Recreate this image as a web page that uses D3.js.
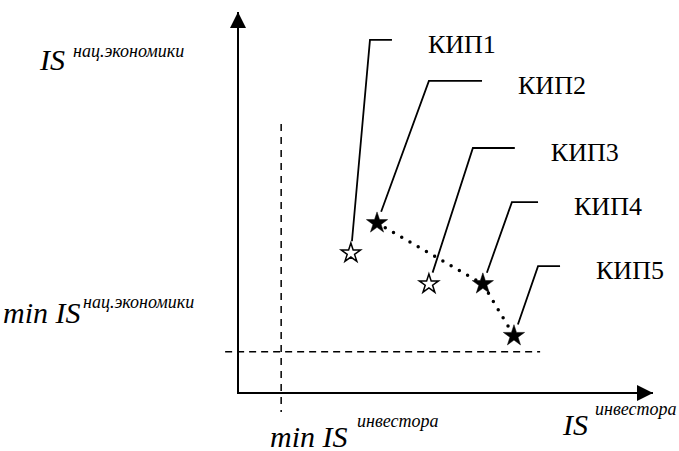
<!DOCTYPE html>
<html><head><meta charset="utf-8"><script src="https://cdn.jsdelivr.net/npm/d3@7"></script></head>
<body style="margin:0">
<script>
// points of the chart (conceptual units)
const names = ['КИП1', 'КИП2', 'КИП3', 'КИП4', 'КИП5'];
const xVals = [2.72, 3.35, 4.60, 5.90, 6.65];
const yVals = [3.67, 4.46, 2.86, 2.86, 1.50];
const filled = [false, true, false, true, true];
// leader elbows
const elbowX = [3.18, 4.60, 5.66, 6.60, 7.23];
const elbowY = [9.27, 8.19, 6.43, 5.01, 3.33];
const elbowEnd = [3.71, 5.88, 6.67, 7.23, 7.76];
// minimum thresholds
const minX = 1.04;
const minY = 1.08;

const width = 679, height = 451;
const svg = d3.select('body').append('svg').attr('width', width).attr('height', height);

const x = d3.scaleLinear().domain([0, 10]).range([238, 653]);
const y = d3.scaleLinear().domain([0, 10]).range([393, 12]);

// arrow heads
const defs = svg.append('defs');
defs.append('marker').attr('id', 'arr').attr('viewBox', '0 0 16 16')
  .attr('refX', 16).attr('refY', 8).attr('markerWidth', 16).attr('markerHeight', 16)
  .attr('markerUnits', 'userSpaceOnUse').attr('orient', 'auto')
  .append('path').attr('d', 'M0,0L16,8L0,16Z').attr('fill', '#000');

// axes
svg.append('line').attr('x1', x(0)).attr('y1', y(0)).attr('x2', x(0)).attr('y2', y(10))
  .attr('stroke', '#000').attr('stroke-width', 2).attr('marker-end', 'url(#arr)');
svg.append('line').attr('x1', x(0) - 1).attr('y1', y(0)).attr('x2', x(10)).attr('y2', y(0))
  .attr('stroke', '#000').attr('stroke-width', 2).attr('marker-end', 'url(#arr)');

// threshold lines
svg.append('line').attr('x1', x(minX)).attr('x2', x(minX)).attr('y1', y(7.06)).attr('y2', y(-0.5))
  .attr('stroke', '#000').attr('stroke-width', 1.5).attr('stroke-dasharray', '7,6');
svg.append('line').attr('x1', x(-0.31)).attr('x2', x(7.28)).attr('y1', y(minY)).attr('y2', y(minY))
  .attr('stroke', '#000').attr('stroke-width', 1.5).attr('stroke-dasharray', '7,5');

const pts = names.map((n, i) => ({
  name: n, x: xVals[i], y: yVals[i], filled: filled[i],
  ex: elbowX[i], ey: elbowY[i], ee: elbowEnd[i]
}));

// dotted path through the filled points
const line = d3.line().x(d => x(d.x)).y(d => y(d.y));
svg.append('path').datum(pts.filter(d => d.filled)).attr('d', line)
  .attr('fill', 'none').attr('stroke', '#000').attr('stroke-width', 3.5)
  .attr('stroke-linecap', 'round').attr('stroke-dasharray', '0,9.5');

// leaders
const gap = 12;
pts.forEach(d => {
  const sx = x(d.x), sy = y(d.y), exP = x(d.ex), eyP = y(d.ey);
  const len = Math.hypot(exP - sx, eyP - sy);
  const px = sx + (exP - sx) / len * gap, py = sy + (eyP - sy) / len * gap;
  svg.append('path')
    .attr('d', `M${px},${py}L${exP},${eyP}L${x(d.ee)},${eyP}`)
    .attr('fill', 'none').attr('stroke', '#000').attr('stroke-width', 1.8);
});

const serifCss = "font-family: 'Liberation Serif', 'Times New Roman', serif !important;";

// names
svg.selectAll('.name').data(pts).enter().append('text')
  .attr('class', 'name')
  .attr('x', d => x(d.ee) + 36).attr('y', d => y(d.ey) + 13)
  .attr('style', serifCss + ' font-size: 26px;')
  .text(d => d.name);

// stars
const starF = d3.symbol(d3.symbolStar, 140);
const starH = d3.symbol(d3.symbolStar, 115);
svg.selectAll('.star').data(pts).enter().append('path')
  .attr('class', 'star')
  .attr('transform', d => `translate(${x(d.x)},${y(d.y)})`)
  .attr('d', d => d.filled ? starF() : starH())
  .attr('fill', d => d.filled ? '#000' : '#fff')
  .attr('stroke', '#000').attr('stroke-width', d => d.filled ? 0.5 : 1.5)
  .attr('stroke-linejoin', 'miter');

// axis captions
const captions = [
  { main: 'IS', sup: 'нац.экономики', mx: 40, my: 70, sx: 73, sy: 57 },
  { main: 'min IS', sup: 'нац.экономики', mx: 3, my: 323, sx: 83, sy: 308 },
  { main: 'min IS', sup: 'инвестора', mx: 270, my: 447, sx: 357, sy: 427 },
  { main: 'IS', sup: 'инвестора', mx: 563, my: 435, sx: 595, sy: 415 }
];
svg.selectAll('.cap').data(captions).enter().append('text')
  .attr('class', 'cap')
  .attr('x', d => d.mx).attr('y', d => d.my)
  .attr('style', serifCss + ' font-size: 30px; font-style: italic;')
  .text(d => d.main);
svg.selectAll('.sup').data(captions).enter().append('text')
  .attr('class', 'sup')
  .attr('x', d => d.sx).attr('y', d => d.sy)
  .attr('style', serifCss + ' font-size: 18px; font-style: italic;')
  .text(d => d.sup);
</script></body></html>
